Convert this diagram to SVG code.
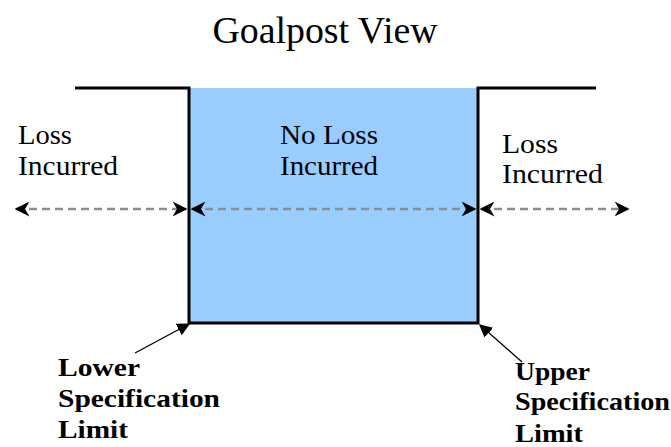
<svg xmlns="http://www.w3.org/2000/svg" width="671" height="447" viewBox="0 0 671 447">
<style>
text{font-family:"Liberation Serif","Times New Roman",serif;fill:#000}
.lbl{font-size:28px}
.lim{font-size:25px;font-weight:bold}
.edge{stroke:#000;stroke-width:3;fill:none}
.dash{stroke:#8c8c8c;stroke-width:2.5;stroke-dasharray:8,5;fill:none}
.ptr{stroke:#000;stroke-width:1.3;fill:none}
</style>
<defs>
<marker id="ah" viewBox="0 0 10 10" refX="9" refY="5" markerWidth="6" markerHeight="6" orient="auto-start-reverse" markerUnits="strokeWidth">
<path d="M0,0 L10,5 L0,10 L3,5 Z" fill="#000"/>
</marker>
<marker id="ap" viewBox="0 0 10 10" refX="9" refY="5" markerWidth="10" markerHeight="10" orient="auto" markerUnits="strokeWidth">
<path d="M0,0 L10,5 L0,10 Z" fill="#000"/>
</marker>
</defs>
<rect width="671" height="447" fill="#fff"/>
<text x="325" y="43" font-size="37" text-anchor="middle" textLength="225" lengthAdjust="spacingAndGlyphs">Goalpost View</text>
<g id="goalpost">
<rect x="189" y="88" width="289" height="235" fill="#99ccff"/>
<path class="edge" d="M75,88 H189 V323 H478 V88 H596"/>
</g>
<g id="left-zone">
<text class="lbl" x="18" y="144" textLength="54" lengthAdjust="spacingAndGlyphs">Loss</text>
<text class="lbl" x="18" y="175" textLength="100" lengthAdjust="spacingAndGlyphs">Incurred</text>
</g>
<g id="middle-zone">
<text class="lbl" x="280" y="144" textLength="98" lengthAdjust="spacingAndGlyphs">No Loss</text>
<text class="lbl" x="280" y="175" textLength="98" lengthAdjust="spacingAndGlyphs">Incurred</text>
</g>
<g id="right-zone">
<text class="lbl" x="502" y="153" textLength="56" lengthAdjust="spacingAndGlyphs">Loss</text>
<text class="lbl" x="502" y="183" textLength="101" lengthAdjust="spacingAndGlyphs">Incurred</text>
</g>
<g id="lower-limit">
<text class="lim" x="58" y="376" textLength="82" lengthAdjust="spacingAndGlyphs">Lower</text>
<text class="lim" x="58" y="407" textLength="162" lengthAdjust="spacingAndGlyphs">Specification</text>
<text class="lim" x="58" y="438" textLength="70" lengthAdjust="spacingAndGlyphs">Limit</text>
</g>
<g id="upper-limit">
<text class="lim" x="515" y="380" textLength="75" lengthAdjust="spacingAndGlyphs">Upper</text>
<text class="lim" x="515" y="410" textLength="155" lengthAdjust="spacingAndGlyphs">Specification</text>
<text class="lim" x="515" y="442" textLength="68" lengthAdjust="spacingAndGlyphs">Limit</text>
</g>
<g id="connectors">
<line class="dash" x1="16" y1="209" x2="186" y2="209" marker-start="url(#ah)" marker-end="url(#ah)"/>
<line class="dash" x1="192" y1="209" x2="475" y2="209" marker-start="url(#ah)" marker-end="url(#ah)"/>
<line class="dash" x1="481" y1="209" x2="628" y2="209" marker-start="url(#ah)" marker-end="url(#ah)"/>
<line class="ptr" x1="135" y1="353" x2="189" y2="324" marker-end="url(#ap)"/>
<line class="ptr" x1="522" y1="362" x2="480" y2="325" marker-end="url(#ap)"/>
</g>
</svg>
